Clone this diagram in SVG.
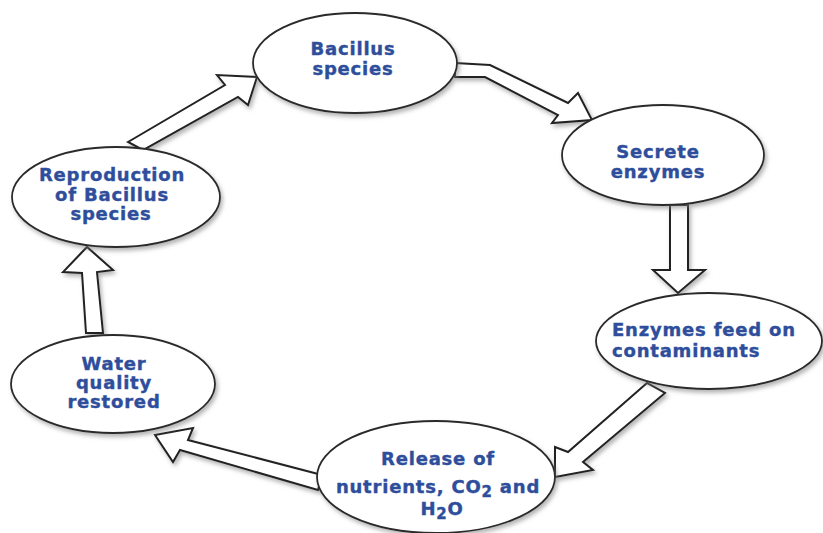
<svg xmlns="http://www.w3.org/2000/svg" width="823" height="533" viewBox="0 0 823 533">
<defs>
<filter id="sh" x="-20%" y="-20%" width="140%" height="140%">
<feDropShadow dx="2" dy="3" stdDeviation="2" flood-color="#777" flood-opacity="0.55"/>
</filter>
</defs>
<style>
.node ellipse{fill:#fff;stroke:#2a2a2a;stroke-width:1.8;filter:url(#sh)}
.arrow{fill:#fff;stroke:#222;stroke-width:2;stroke-linejoin:miter;filter:url(#sh)}
text{font-family:"DejaVu Sans","Liberation Sans",sans-serif;font-weight:bold;font-size:18px;fill:#2e4e9c;stroke:#2e4e9c;stroke-width:0.4px;letter-spacing:0.8px}
.c{text-anchor:middle}
.sub{font-size:15px}
</style>
<rect width="823" height="533" fill="#fff"/>
<g id="connectors">
<polygon class="arrow" points="128,142 225,85 217,75 257,77 248,105 238,97 143,150"/>
<polygon class="arrow" points="455,63 490,65 568,103 578,93 592,120 552,123 558,115 485,77 455,77"/>
<polygon class="arrow" points="670,205 670,270 653,270 678,293 705,270 688,270 688,205"/>
<polygon class="arrow" points="647,383 568,452 555,447 555,477 593,470 583,462 665,393"/>
<polygon class="arrow" points="322,475 188,440 193,428 155,435 173,462 180,450 318,490"/>
<polygon class="arrow" points="86,333 82,273 63,272 87,247 113,270 97,272 103,333"/>
</g>
<g id="node-bacillus" class="node">
<ellipse cx="355" cy="63" rx="102" ry="50"/>
<text class="c" x="353" y="55">Bacillus</text>
<text class="c" x="353" y="75">species</text>
</g>
<g id="node-secrete" class="node">
<ellipse cx="663" cy="155" rx="101" ry="50"/>
<text class="c" x="658" y="158">Secrete</text>
<text class="c" x="658" y="178">enzymes</text>
</g>
<g id="node-enzymes" class="node">
<ellipse cx="709" cy="341" rx="113" ry="48"/>
<text x="612" y="336">Enzymes feed on</text>
<text x="612" y="357">contaminants</text>
</g>
<g id="node-release" class="node">
<ellipse cx="436" cy="477" rx="119" ry="56"/>
<text class="c" x="438" y="465">Release of</text>
<text class="c" x="438" y="493">nutrients, CO<tspan class="sub" dy="4">2</tspan><tspan dy="-4"> and</tspan></text>
<text class="c" x="442" y="515">H<tspan class="sub" dy="4">2</tspan><tspan dy="-4">O</tspan></text>
</g>
<g id="node-water" class="node">
<ellipse cx="113" cy="384" rx="102" ry="49"/>
<text class="c" x="114" y="370">Water</text>
<text class="c" x="114" y="389">quality</text>
<text class="c" x="114" y="408">restored</text>
</g>
<g id="node-reproduction" class="node">
<ellipse cx="116" cy="197" rx="104" ry="50"/>
<text class="c" x="112" y="181">Reproduction</text>
<text class="c" x="112" y="201">of Bacillus</text>
<text class="c" x="111" y="220">species</text>
</g>
</svg>
